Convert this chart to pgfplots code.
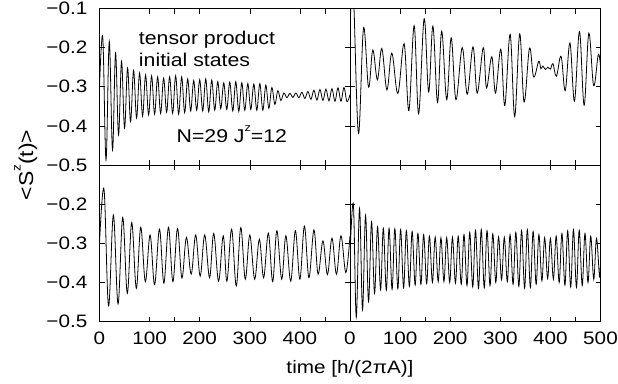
\documentclass[border=0pt]{standalone}
\usepackage{fontspec}
\setmainfont{Liberation Sans}[FakeStretch=1.15]
\usepackage{pgfplots}
\pgfplotsset{compat=1.18}
\pgfplotsset{
  panel/.style={
    scale only axis, width=250.5pt, height=156.5pt,
    xmin=0, xmax=500, ymin=-0.5, ymax=-0.1,
    axis line style={line width=0.75pt},
    tick style={black, line width=0.6pt},
    major tick length=5pt, minor tick length=5pt,
    tick align=inside,
    xtick={0,100,200,300,400,500}, minor xtick={150,450},
    ytick={-0.5,-0.4,-0.3,-0.2,-0.1},
    xticklabels={}, yticklabels={},
    tick label style={font=\fontsize{18}{20}\selectfont},
    xticklabel style={inner sep=0pt, yshift=-10pt},
    yticklabel style={inner sep=0pt, xshift=-12pt},
    anchor=south west,
  },
  curve/.style={black, line width=0.8pt, mark=none, smooth, tension=0.6},
}
\begin{document}
\fontsize{18}{20}\selectfont
\begin{tikzpicture}
\path (0pt,0pt) rectangle (618pt,383pt);
% top-left
\begin{axis}[panel, at={(99.5pt,218pt)},
  yticklabels={−0.5,−0.4,−0.3,−0.2,−0.1}]
\addplot[curve] coordinates {
(0,-0.30) (6.5,-0.173) (13,-0.487) (19.5,-0.184) (26,-0.462) (32,-0.214) (38,-0.423)
(44,-0.235) (50,-0.406) (56,-0.252) (62,-0.389) (68,-0.258) (74,-0.38) (80,-0.265)
(86,-0.375) (92,-0.27) (98,-0.372) (104,-0.272) (110,-0.37) (116,-0.275) (122,-0.368)
(128,-0.278) (134,-0.365) (140,-0.275) (146,-0.368) (152,-0.272) (158,-0.37) (164,-0.275)
(170,-0.366) (176,-0.28) (182,-0.362) (188,-0.284) (194,-0.36) (200,-0.282) (206,-0.362)
(212,-0.28) (218,-0.364) (224,-0.283) (230,-0.36) (236,-0.287) (242,-0.356) (248,-0.29)
(254,-0.358) (260,-0.288) (266,-0.362) (272,-0.287) (278,-0.363) (284,-0.29) (290,-0.36)
(296,-0.292) (302,-0.358) (308,-0.293) (314,-0.36) (320,-0.292) (326,-0.36) (332,-0.296)
(338,-0.355) (344,-0.302) (350,-0.345) (356,-0.31) (362,-0.335) (368,-0.316) (374,-0.328)
(380,-0.317) (386,-0.327) (392,-0.316) (398,-0.328) (404,-0.314) (410,-0.33) (416,-0.312)
(422,-0.332) (428,-0.309) (434,-0.334) (440,-0.307) (446,-0.335) (452,-0.306) (458,-0.336)
(464,-0.305) (470,-0.337) (476,-0.303) (482,-0.337) (488,-0.302) (494,-0.338) (500,-0.32)
};
\node[anchor=base west, inner sep=0pt, font=\fontsize{18.5}{21}\selectfont] at (axis cs:78.4,-0.1915) {tensor product};
\node[anchor=base west, inner sep=0pt, font=\fontsize{18.5}{21}\selectfont] at (axis cs:78.4,-0.247) {initial states};
\node[anchor=base west, inner sep=0pt, font=\fontsize{18.5}{21}\selectfont] at (axis cs:153.6,-0.4436) {N=29 J\raisebox{0.62em}{\fontsize{11}{11}\selectfont z}=12};
\end{axis}
% top-right
\begin{axis}[panel, at={(350pt,218pt)}]
\addplot[curve] coordinates {
(0,-0.47) (1.3,-0.1) (4.5,-0.02) (8,-0.1) (17,-0.419) (27,-0.150) (37,-0.301)
(45.5,-0.206) (54.7,-0.282) (63.5,-0.202) (73.7,-0.308) (83.5,-0.214) (95.5,-0.317)
(108,-0.19) (117.5,-0.361) (128,-0.144) (137,-0.369) (148,-0.126) (157,-0.313)
(165.5,-0.145) (174.7,-0.34) (183,-0.158) (193,-0.333) (202,-0.175) (211.5,-0.333)
(224,-0.2) (234,-0.319) (245.5,-0.198) (254,-0.316) (266,-0.2) (272.5,-0.303)
(283,-0.223) (290.5,-0.316) (301,-0.204) (309,-0.348) (319.6,-0.166) (328.7,-0.376)
(338.7,-0.165) (347.5,-0.339) (358.3,-0.201) (366.5,-0.275) (376.7,-0.235) (381,-0.254)
(385,-0.247) (390,-0.256) (395,-0.25) (400,-0.255) (405,-0.241) (412,-0.273)
(421.3,-0.222) (429.6,-0.31) (439,-0.188) (448,-0.337) (458,-0.159) (467.3,-0.347)
(476.7,-0.163) (486.3,-0.297) (495.5,-0.218) (500,-0.247)
};
\end{axis}
% bottom-left
\begin{axis}[panel, at={(99.5pt,61.5pt)},
  yticklabels={−0.5,−0.4,−0.3,−0.2,{}},
  xticklabels={0,100,200,300,400,{}}]
\addplot[curve] coordinates {
(0,-0.30) (9,-0.162) (18,-0.46) (27.7,-0.228) (37,-0.455) (46.3,-0.234) (55.5,-0.428)
(64.3,-0.247) (73.5,-0.415) (82.3,-0.259) (91.5,-0.398) (101,-0.279) (110,-0.406)
(119.7,-0.264) (128.5,-0.402) (137.7,-0.259) (146.5,-0.398) (155.7,-0.262) (164.5,-0.389)
(173.5,-0.285) (183,-0.379) (192,-0.279) (201,-0.384) (210,-0.279) (219.7,-0.388)
(228,-0.275) (237.7,-0.397) (247,-0.281) (254.3,-0.397) (263.7,-0.264) (273,-0.409)
(282,-0.26) (291,-0.392) (300,-0.279) (309.7,-0.392) (319,-0.29) (327.7,-0.388)
(337,-0.274) (345.7,-0.398) (354,-0.268) (363.7,-0.392) (372,-0.281) (381.7,-0.397)
(391,-0.268) (400,-0.392) (409,-0.256) (418,-0.388) (428,-0.266) (436.3,-0.379)
(446,-0.294) (455,-0.38) (464,-0.287) (473,-0.379) (482,-0.281) (491.7,-0.375) (500,-0.281)
};
\end{axis}
% bottom-right
\begin{axis}[panel, at={(350pt,61.5pt)},
  xticklabels={0,100,200,300,400,500}]
\addplot[curve] coordinates {
(0,-0.33) (6.7,-0.2) (12.5,-0.489) (19,-0.211) (25,-0.47) (31,-0.228) (37,-0.449)
(43,-0.245) (49,-0.428) (55,-0.258) (61,-0.419) (66.5,-0.262) (72.5,-0.42) (78,-0.262)
(84,-0.418) (89.5,-0.263) (95.5,-0.416) (101,-0.265) (107,-0.414) (112.5,-0.268)
(118.5,-0.41) (124,-0.27) (130,-0.407) (135.5,-0.275) (141.5,-0.405) (147,-0.278)
(153,-0.403) (158.5,-0.282) (164.5,-0.4) (170,-0.284) (176,-0.398) (181.5,-0.286)
(187.5,-0.398) (193,-0.286) (199,-0.4) (204.5,-0.285) (210.5,-0.402) (216,-0.282)
(222,-0.405) (227.5,-0.278) (233.5,-0.408) (239,-0.272) (245,-0.412) (250.5,-0.267)
(256.5,-0.415) (262,-0.265) (268,-0.414) (273.5,-0.268) (279.5,-0.408) (285,-0.276)
(291,-0.4) (296.5,-0.284) (302.5,-0.393) (308,-0.285) (314,-0.398) (319.5,-0.278)
(325.5,-0.405) (331,-0.272) (337,-0.41) (342.5,-0.267) (348.5,-0.415) (354,-0.265)
(360,-0.413) (365.5,-0.27) (371.5,-0.405) (377,-0.278) (383,-0.396) (388.5,-0.286)
(394.5,-0.39) (400,-0.288) (406,-0.392) (411.5,-0.282) (417.5,-0.4) (423,-0.275)
(429,-0.407) (434.5,-0.268) (440.5,-0.412) (446,-0.265) (452,-0.413) (457.5,-0.267)
(463.5,-0.408) (469,-0.275) (475,-0.4) (480.5,-0.282) (486.5,-0.392) (492,-0.288)
(498,-0.385) (500,-0.35)
};
\end{axis}
\node[anchor=base, inner sep=0pt, font=\fontsize{18}{20}\selectfont] at (350pt,10pt) {time [h/(2πA)]};
\node[anchor=base, inner sep=0pt, rotate=90, font=\fontsize{20}{22}\selectfont] at (33pt,218pt) {<S\raisebox{0.62em}{\fontsize{12}{12}\selectfont z}(t)>};
\end{tikzpicture}
\end{document}
